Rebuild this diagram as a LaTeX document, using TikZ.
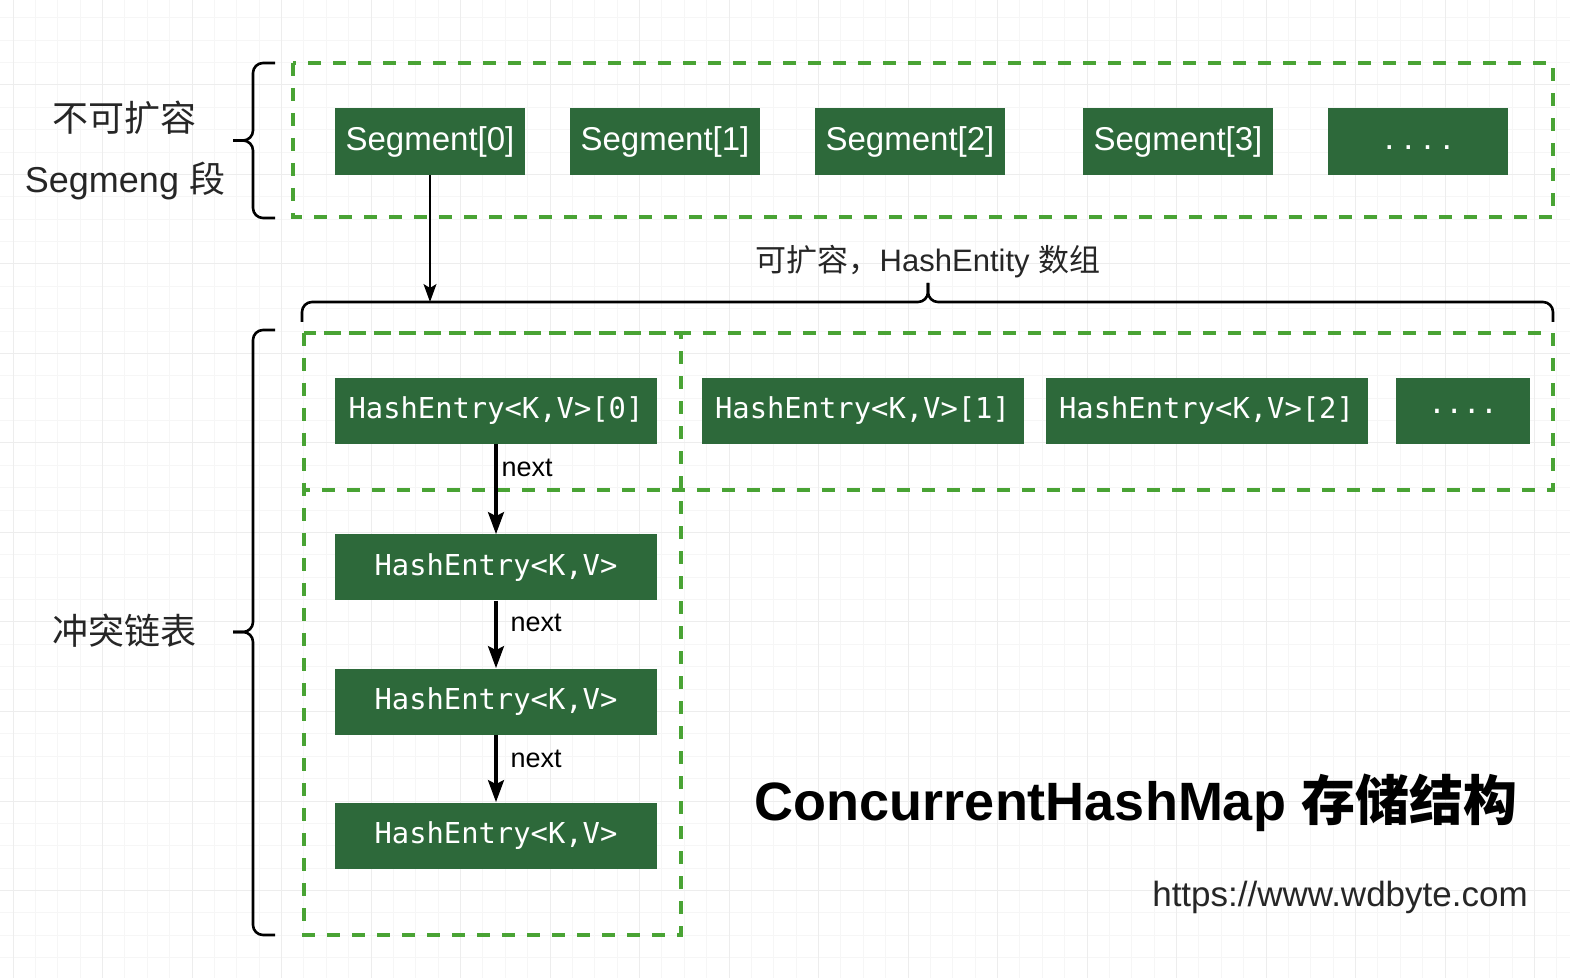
\documentclass[tikz,border=0pt]{standalone}
\usepackage{fontspec}
\setmainfont{Liberation Sans}
\setmonofont{DejaVu Sans Mono}
\newfontfamily\cjk{Noto Sans CJK SC}
\usetikzlibrary{arrows.meta}
\definecolor{boxgreen}{HTML}{2D693A}
\definecolor{dashgreen}{HTML}{49A334}
\tikzset{
  segbox/.style={rectangle, fill=boxgreen, text=white, text centered, inner sep=0, minimum width=95pt, minimum height=33.5pt, font=\fontsize{16.5}{20}\selectfont},
  entrybox/.style={rectangle, fill=boxgreen, text=white, text centered, inner sep=0, minimum width=161pt, minimum height=33pt, font=\ttfamily\fontsize{14.4}{18}\selectfont},
  groupbox/.style={draw=dashgreen, line width=1.8pt, dash pattern=on 6.5pt off 6pt},
  bracket/.style={draw, line width=1.3pt, rounded corners=5pt},
  nextarrow/.style={-{Stealth[length=11pt, width=8pt, inset=2pt]}, line width=1.6pt},
  nexttext/.style={right, font=\fontsize{13.5}{16}\selectfont},
  sidetext/.style={text=black!85, font=\fontsize{18}{22}\selectfont},
  minorgrid/.style={draw=gray!7, line width=0.5pt},
  majorgrid/.style={draw=gray!14, line width=0.5pt}
}

\begin{document}
\begin{tikzpicture}[x=0.5pt, y=-0.5pt]
      \useasboundingbox (0, 0) rectangle (1570, 978);
      % grid
      \foreach \k in {0,...,70} {\draw[minorgrid] ({13+22.375*\k}, 0) -- ({13+22.375*\k}, 978);}
      \foreach \k in {1,...,44} {\draw[minorgrid] (0, {-4.5+22.375*\k}) -- (1570, {-4.5+22.375*\k});}
      \foreach \k in {0,...,17} {\draw[majorgrid] ({13+89.5*\k}, 0) -- ({13+89.5*\k}, 978);}
      \foreach \k in {1,...,11} {\draw[majorgrid] (0, {-4.5+89.5*\k}) -- (1570, {-4.5+89.5*\k});}

      \draw[groupbox] (293, 63) rectangle (1553, 217);
      \draw[groupbox] (304, 333) rectangle (1553, 490);
      \draw[groupbox] (304, 333) rectangle (681, 935);

      \node[segbox](seg0) at (430, 141.5){Segment[0]};
      \node[segbox](seg1) at (665, 141.5){Segment[1]};
      \node[segbox](seg2) at (910, 141.5){Segment[2]};
      \node[segbox](seg3) at (1178, 141.5){Segment[3]};
      \node[segbox, minimum width=90pt](segdots) at (1418, 141.5){\vphantom{Sg}{\fontsize{18}{20}\selectfont.}\ {\fontsize{18}{20}\selectfont.}\ {\fontsize{18}{20}\selectfont.}\ {\fontsize{18}{20}\selectfont.}};

      \node[entrybox](he0) at (496, 411){HashEntry<K,V>[0]};
      \node[entrybox](he1) at (862.5, 411){HashEntry<K,V>[1]};
      \node[entrybox](he2) at (1206.5, 411){HashEntry<K,V>[2]};
      \node[entrybox, minimum width=67pt](hedots) at (1463, 411){....};

      \node[entrybox](chain1) at (496, 567.5){HashEntry<K,V>};
      \node[entrybox](chain2) at (496, 701.5){HashEntry<K,V>};
      \node[entrybox](chain3) at (496, 835.5){HashEntry<K,V>};

      \draw[nextarrow](he0) -- node[nexttext, pos=0.26, inner sep=2pt]{next} (chain1);
      \draw[nextarrow](chain1) -- node[nexttext, pos=0.33, inner sep=6.5pt]{next} (chain2);
      \draw[nextarrow](chain2) -- node[nexttext, pos=0.36, inner sep=6.5pt]{next} (chain3);

      % braces
      \draw[bracket](275, 63) -- (253, 63) -- (253, 140.5) -- (233, 140.5);
      \draw[bracket](275, 218) -- (253, 218) -- (253, 140.5) -- (233, 140.5);
      \draw[bracket](275, 330) -- (253, 330) -- (253, 632) -- (233, 632);
      \draw[bracket](275, 935) -- (253, 935) -- (253, 632) -- (233, 632);
      \draw[bracket](302, 322) -- (302, 302) -- (928, 302) -- (928, 283);
      \draw[bracket](1553, 322) -- (1553, 302) -- (928, 302) -- (928, 283);

      \coordinate(bracein) at (430, 302);
      \draw[-{Stealth[length=9pt, width=6.5pt, inset=2pt]}, line width=0.6pt](seg0) -- (bracein);

      \node[sidetext](t1) at (125, 118){\cjk 不可扩容};
      \node[sidetext](t2) at (125, 181){Segmeng {\cjk 段}};
      \node[sidetext](t3) at (125, 631){\cjk 冲突链表};
      \node[text=black!85, font=\fontsize{15.5}{19}\selectfont](t4) at (928, 262){{\cjk 可扩容，}HashEntity {\cjk 数组}};

      \node[font=\bfseries\fontsize{27}{32}\selectfont](title) at (1136, 803){ConcurrentHashMap {\cjk 存储结构}};
      \node[text=black!85, font=\fontsize{17.5}{21}\selectfont](url) at (1340, 897){https://www.wdbyte.com};
    \end{tikzpicture}
\end{document}
